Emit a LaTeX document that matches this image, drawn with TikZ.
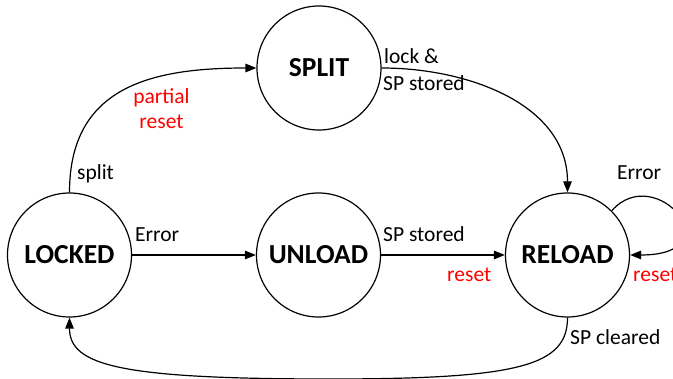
\documentclass[tikz,border=0pt]{standalone}
\usepackage{fontspec}
\setmainfont{Carlito}
\usetikzlibrary{arrows.meta}
\definecolor{lblred}{RGB}{255,0,0}
\begin{document}
\begin{tikzpicture}[x=1pt,y=-1pt,
  state/.style={circle,draw,line width=1.2pt,minimum size=124pt,inner sep=0pt,
    font=\fontsize{27.5}{30}\selectfont\bfseries},
  conn/.style={line width=1.2pt,-{Triangle[length=11pt,width=8.5pt]}},
  lab/.style={inner sep=0pt,font=\fontsize{21.5}{27}\selectfont,anchor=base west},
  redlab/.style={lab,text=lblred},
  redmid/.style={redlab,anchor=base}]
\useasboundingbox (0,0) rectangle (673,379);
\node[state] (lk) at (69.5,255) {LOCKED};
\node[state] (ul) at (318.5,255) {UNLOAD};
\node[state] (rl) at (567.5,255) {RELOAD};
\node[state] (sp) at (319,68) {SPLIT};
\coordinate (bm) at (330,379);
% connectors
\draw[conn] (lk.north) to[out=90,in=180,looseness=1.2] (sp.west);
\draw[conn] (sp.east) to[out=0,in=90] (rl.north);
\draw[conn] (lk.east) -- (ul.west);
\draw[conn] (ul.east) -- (rl.west);
\draw[conn] (rl.45) .. controls +(44,-50) and +(105,0) .. (rl.east);
\draw[conn] (rl.south) .. controls +(0,48) and +(190,0) .. (bm)
  .. controls +(-210,0) and +(0,48) .. (lk.south);
% labels
\node[lab] (lsplit) at (77,180) {split};
\node[redmid] (lpart) at (161.5,104) {partial};
\node[redmid] (lpreset) at (161.5,129) {reset};
\node[lab] (llock) at (384,64) {lock \&};
\node[lab] (lspst1) at (383,91) {SP stored};
\node[lab] (lerr1) at (135,242) {Error};
\node[lab] (lspst2) at (383,242) {SP stored};
\node[redlab] (lreset1) at (447,282) {reset};
\node[lab] (lerr2) at (617,180) {Error};
\node[redlab] (lreset2) at (633,282) {reset};
\node[lab] (lclr) at (570,345) {SP cleared};
\end{tikzpicture}
\end{document}
